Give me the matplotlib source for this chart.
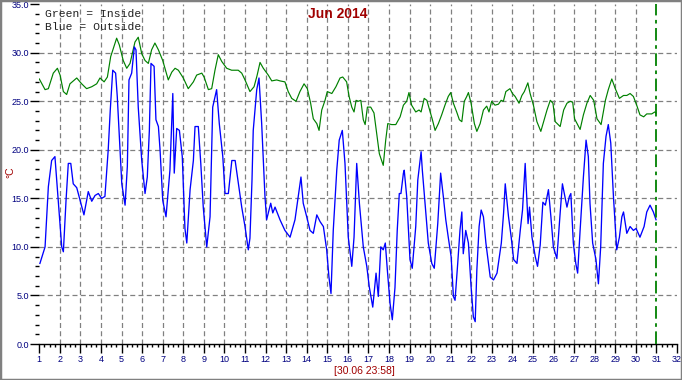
import matplotlib
matplotlib.use("Agg")
import matplotlib.pyplot as plt
from matplotlib.patches import Rectangle
from matplotlib.ticker import MultipleLocator, FixedLocator

# Outside temperature (blue), time in days of month (1.0 = 1 June 00:00)
out_day = [1.03, 1.28, 1.44, 1.60, 1.76, 1.92, 2.09, 2.17, 2.30, 2.41, 2.53, 2.65, 2.82, 2.98,
           3.17, 3.38, 3.55, 3.71, 3.87, 4.03, 4.19, 4.35, 4.45, 4.57, 4.71, 4.79, 4.92, 5.01,
           5.17, 5.28, 5.36, 5.49, 5.62, 5.70, 5.81, 5.98, 6.14, 6.25, 6.35, 6.43, 6.58, 6.67,
           6.79, 6.87, 7.00, 7.16, 7.35, 7.49, 7.56, 7.68, 7.81, 7.95, 8.08, 8.17, 8.33, 8.49,
           8.57, 8.73, 8.85, 8.97, 9.14, 9.30, 9.43, 9.62, 9.75, 9.92, 10.03, 10.19, 10.36,
           10.52, 10.68, 10.84, 11.00, 11.16, 11.24, 11.34, 11.40, 11.57, 11.68, 11.81, 11.97,
           12.05, 12.25, 12.35, 12.46, 12.70, 12.94, 13.19, 13.43, 13.59, 13.72, 13.83, 14.00,
           14.16, 14.32, 14.49, 14.65, 14.81, 14.97, 15.08, 15.18, 15.29, 15.46, 15.58, 15.73,
           15.86, 16.02, 16.19, 16.30, 16.43, 16.56, 16.75, 16.92, 17.04, 17.21, 17.37, 17.48,
           17.60, 17.72, 17.82, 17.92, 18.05, 18.16, 18.29, 18.40, 18.50, 18.58, 18.70, 18.74,
           18.86, 19.02, 19.13, 19.30, 19.40, 19.56, 19.62, 19.75, 19.91, 20.08, 20.20, 20.37,
           20.51, 20.64, 20.76, 20.88, 21.02, 21.13, 21.21, 21.34, 21.45, 21.54, 21.61, 21.73,
           21.86, 21.99, 22.10, 22.19, 22.27, 22.38, 22.48, 22.59, 22.71, 22.92, 23.08, 23.25,
           23.46, 23.57, 23.65, 23.81, 23.94, 24.06, 24.22, 24.38, 24.49, 24.62, 24.67, 24.76,
           24.83, 24.95, 25.11, 25.22, 25.35, 25.48, 25.60, 25.75, 25.87, 25.99, 26.16, 26.32,
           26.43, 26.52, 26.65, 26.77, 26.84, 26.96, 27.08, 27.17, 27.29, 27.45, 27.58, 27.69,
           27.77, 27.90, 28.06, 28.18, 28.29, 28.42, 28.55, 28.66, 28.78, 28.91, 29.07, 29.20,
           29.32, 29.40, 29.56, 29.72, 29.88, 30.01, 30.20, 30.40, 30.53, 30.69, 30.85, 30.98]
out_temp = [8.3, 10.0, 16.2, 18.9, 19.3, 14.8, 10.0, 9.5, 14.8, 18.6, 18.6, 16.5, 16.1, 14.8,
            13.3, 15.7, 14.7, 15.3, 15.5, 15.0, 15.2, 20.0, 24.1, 28.2, 27.9, 25.5, 20.3, 16.5,
            14.3, 18.3, 27.2, 27.9, 30.6, 30.3, 24.4, 18.9, 15.5, 17.2, 22.0, 28.9, 28.6, 23.1,
            22.4, 20.0, 14.8, 13.1, 17.9, 25.8, 17.6, 22.2, 22.0, 19.3, 11.9, 10.4, 15.9, 18.9,
            22.4, 22.4, 18.6, 14.1, 10.0, 13.1, 24.4, 26.2, 22.7, 19.3, 15.5, 15.5, 18.9,
            18.9, 16.5, 14.1, 12.1, 9.7, 10.9, 16.9, 22.0, 26.2, 27.4, 22.7, 15.2,
            12.8, 14.5, 13.5, 14.1, 12.8, 11.7, 11.0, 12.8, 15.2, 17.2, 14.5, 13.1,
            11.7, 11.4, 13.3, 12.6, 12.1, 9.7, 6.9, 5.2, 11.7, 17.9, 21.0, 22.0,
            18.6, 11.0, 8.0, 11.0, 18.6, 14.5, 10.0, 8.0, 5.9, 3.8, 7.3, 4.9,
            10.0, 9.7, 10.4, 7.6, 4.2, 2.5, 5.8, 11.7, 15.5, 15.5, 17.6, 17.9,
            15.2, 8.7, 7.8, 12.1, 16.9, 19.8, 17.9, 14.5, 10.4, 8.3, 7.8, 12.4,
            17.6, 15.2, 12.8, 11.0, 9.0, 4.9, 4.5, 8.3, 11.7, 13.6, 9.3, 11.7,
            10.4, 5.9, 2.8, 2.3, 7.6, 12.1, 13.8, 13.1, 10.4, 6.9, 6.6, 7.3,
            10.4, 13.5, 16.5, 13.1, 11.0, 8.7, 8.3, 11.7, 13.8, 18.6, 16.2, 12.4,
            14.1, 11.0, 9.0, 8.0, 10.2, 14.6, 14.3, 15.9, 13.1, 10.0, 8.8, 13.5,
            16.5, 15.5, 14.1, 15.2, 15.5, 10.4, 8.3, 7.3, 11.7, 17.2, 21.0, 19.3,
            14.5, 10.4, 8.7, 6.2, 10.0, 18.6, 21.4, 22.6, 20.7, 15.2, 9.7, 11.0,
            13.1, 13.6, 11.4, 12.1, 11.7, 11.9, 11.0, 12.1, 13.6, 14.3, 13.6, 12.8]

# Inside temperature (green)
in_day = [1.00, 1.28, 1.44, 1.68, 1.88, 2.01, 2.17, 2.33, 2.49, 2.82, 3.06, 3.30, 3.55, 3.79,
          3.95, 4.15, 4.31, 4.47, 4.68, 4.76, 4.89, 5.08, 5.25, 5.41, 5.65, 5.81, 5.98, 6.14,
          6.30, 6.46, 6.62, 6.79, 7.00, 7.27, 7.44, 7.60, 7.76, 8.00, 8.24, 8.49, 8.65, 8.90,
          9.01, 9.22, 9.38, 9.54, 9.70, 9.87, 10.11, 10.35, 10.67, 10.84, 11.00, 11.24, 11.44,
          11.58, 11.73, 11.89, 12.13, 12.30, 12.54, 12.70, 12.94, 13.10, 13.27, 13.48, 13.67,
          13.87, 14.03, 14.19, 14.32, 14.49, 14.60, 14.73, 14.89, 15.00, 15.22, 15.42, 15.62,
          15.75, 15.94, 16.06, 16.19, 16.30, 16.40, 16.51, 16.63, 16.75, 16.84, 16.95, 17.11,
          17.27, 17.40, 17.53, 17.61, 17.72, 17.84, 17.94, 18.13, 18.33, 18.54, 18.70, 18.86,
          18.97, 19.10, 19.30, 19.46, 19.56, 19.71, 19.84, 20.00, 20.11, 20.24, 20.40, 20.56,
          20.72, 20.88, 21.00, 21.13, 21.29, 21.42, 21.54, 21.66, 21.78, 21.86, 21.99, 22.15,
          22.27, 22.43, 22.59, 22.75, 22.86, 22.99, 23.15, 23.32, 23.45, 23.56, 23.68, 23.88,
          24.00, 24.13, 24.32, 24.46, 24.58, 24.75, 24.86, 25.02, 25.19, 25.38, 25.56, 25.68,
          25.84, 25.97, 26.08, 26.32, 26.49, 26.65, 26.81, 26.93, 27.02, 27.29, 27.45, 27.62,
          27.78, 27.95, 28.11, 28.31, 28.40, 28.52, 28.66, 28.83, 29.00, 29.20, 29.40, 29.56,
          29.72, 29.88, 30.04, 30.20, 30.38, 30.53, 30.77, 30.92, 30.98]
in_temp = [27.3, 26.2, 26.3, 27.9, 28.4, 27.7, 26.0, 25.7, 26.8, 27.4, 26.8, 26.3, 26.5, 26.8,
           27.4, 27.0, 27.5, 29.6, 31.0, 31.5, 30.8, 29.2, 28.4, 28.9, 31.1, 31.6, 29.9, 29.2,
           28.9, 30.3, 31.0, 30.3, 29.2, 27.2, 28.0, 28.4, 28.2, 27.4, 26.3, 27.0, 27.7, 27.9,
           27.5, 26.2, 26.3, 28.2, 29.8, 29.1, 28.4, 28.2, 28.2, 27.9, 27.2, 26.0, 26.5,
           27.6, 29.0, 28.4, 27.7, 27.1, 27.2, 27.1, 27.0, 26.0, 25.3, 25.0, 26.0,
           26.8, 26.3, 24.8, 23.2, 22.7, 22.0, 24.1, 25.1, 26.0, 25.8, 26.5, 27.4,
           27.5, 27.0, 25.5, 24.4, 23.9, 25.1, 25.0, 25.1, 23.1, 22.6, 24.4, 24.4,
           23.8, 21.7, 19.6, 19.1, 18.4, 21.0, 22.7, 22.6, 22.6, 23.4, 24.6, 25.0,
           25.9, 24.6, 23.9, 24.1, 23.9, 25.3, 25.1, 23.9, 23.1, 22.0, 22.7, 23.6,
           24.6, 25.5, 25.9, 24.8, 23.9, 23.1, 22.9, 25.0, 25.5, 25.9, 24.8, 22.7,
           21.9, 22.7, 24.1, 24.5, 23.9, 25.0, 24.6, 24.7, 25.1, 25.0, 26.0, 26.3,
           25.8, 25.5, 24.8, 25.6, 26.0, 26.9, 25.8, 24.6, 22.9, 21.9, 23.2, 24.1,
           25.1, 24.8, 22.9, 22.4, 24.1, 24.8, 25.0, 24.9, 23.2, 22.1, 23.6, 24.8,
           25.6, 25.1, 23.2, 22.6, 23.7, 25.1, 26.2, 27.3, 26.3, 25.3, 25.6, 25.6,
           25.8, 25.5, 24.6, 23.6, 23.4, 23.7, 23.7, 23.9, 23.8]

now_day = 31.0          # 30.06 23:58
y_major = [0, 5, 10, 15, 20, 25, 30, 35]
x_days = list(range(1, 33))

navy = '#000080'
dark_red = '#a00000'
grid_col = '#808080'

fig = plt.figure(figsize=(6.82, 3.80), dpi=100)
fig.patch.set_facecolor('white')
ax = fig.add_axes([39.3 / 682, 36 / 380, 637.7 / 682, 339.8 / 380])
ax.set_xlim(1, 32)
ax.set_ylim(0, 35)

# grid (dashed gray), none at 35 and at day 31/32
for y in y_major[1:-1]:
    ax.axhline(y, color=grid_col, lw=0.9, ls=(0, (4.0, 2.6)), zorder=1)
for d in x_days[1:-2]:
    ax.axvline(d, color=grid_col, lw=0.9, ls=(0, (4.0, 2.6)), zorder=1)

ax.plot(in_day, in_temp, color='#008000', lw=0.85, zorder=3)
ax.plot(out_day, out_temp, color='#0000ff', lw=0.95, zorder=3)
ax.axvline(now_day, color='#008000', lw=1.3, ls=(0, (7, 2.5, 2, 2.5)), zorder=4)

for s in ['top', 'right', 'left']:
    ax.spines[s].set_visible(False)
ax.spines['bottom'].set_color('black')
ax.spines['bottom'].set_linewidth(1.0)

ax.xaxis.set_major_locator(FixedLocator(x_days))
ax.xaxis.set_minor_locator(MultipleLocator(0.25))
ax.yaxis.set_major_locator(FixedLocator(y_major))
ax.yaxis.set_minor_locator(MultipleLocator(1))
ax.set_xticklabels([str(d) for d in x_days])
ax.set_yticklabels(['%.1f' % v for v in y_major])

ax.tick_params(axis='x', which='major', length=6.5, width=1.0, color='black',
               labelsize=6.5, labelcolor=navy, pad=1.5)
ax.tick_params(axis='x', which='minor', length=2.4, width=1.0, color='black')
ax.tick_params(axis='y', which='major', length=6.5, width=1.0, color='black',
               labelsize=6.5, labelcolor=navy, pad=0.8)
ax.tick_params(axis='y', which='minor', length=3.0, width=1.0, color='black')
for lab in ax.get_xticklabels() + ax.get_yticklabels():
    lab.set_family('Liberation Sans')
ax.set_facecolor('none')

fig.text(338 / 682, (380 - 18.3) / 380, 'Jun 2014', ha='center', va='baseline',
         color=dark_red, fontsize=10, fontweight='bold', family='Liberation Sans')
fig.text(364 / 682, 6 / 380, '[30.06 23:58]', ha='center', va='baseline',
         color=dark_red, fontsize=7.5, family='Liberation Sans')
fig.text(10 / 682, (380 - 172) / 380, '°C', ha='center', va='center', rotation=90,
         color=dark_red, fontsize=7.5, family='Liberation Sans')
fig.text(45 / 682, (380 - 17.3) / 380, 'Green = Inside', ha='left', va='baseline',
         color='#202020', fontsize=8.2, family='Liberation Mono')
fig.text(45 / 682, (380 - 30) / 380, 'Blue = Outside', ha='left', va='baseline',
         color='#202020', fontsize=8.2, family='Liberation Mono')

# gray frame around the whole picture
fig.patches.append(Rectangle((0, 0), 1, 1, transform=fig.transFigure, fill=False,
                             edgecolor='#808080', lw=2.5))

fig.savefig('out.png', dpi=100)
